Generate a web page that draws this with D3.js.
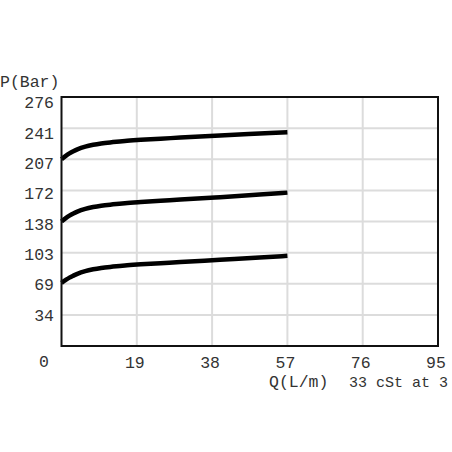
<!DOCTYPE html>
<html>
<head>
<meta charset="utf-8">
<script src="https://cdn.jsdelivr.net/npm/d3@7"></script>
<style>
html,body{margin:0;padding:0;background:#fff;}
svg{display:block;}
text{font-family:"Liberation Mono","DejaVu Sans Mono",monospace;fill:#333;}
</style>
</head>
<body>
<svg id="chart" width="452" height="452"></svg>
<script>
// ---- data ----
const xTickValues = [0, 19, 38, 57, 76, 95];
const xTickLabels = ["0", "19", "38", "57", "76", "95"];
const yTickValues = [34.5, 69, 103.5, 138, 172.5, 207, 241.5, 276];
const yTickLabels = ["34", "69", "103", "138", "172", "207", "241", "276"];
const flow = [0, 1, 2, 3, 4, 6, 8, 10, 13, 16, 20, 25, 30, 40, 50, 57];
const seriesHigh = [207, 210.5, 213.5, 216, 218, 221, 223, 224.5, 226, 227.3, 228.5, 229.8, 231, 233.3, 235.5, 237];
const seriesMid = [138, 141.5, 144.5, 147, 149, 152, 154, 155.5, 157, 158.3, 159.6, 161, 162.3, 165, 167.8, 170];
const seriesLow = [70, 73, 75.8, 78, 80, 83, 85, 86.5, 88, 89.3, 90.5, 91.8, 93, 95.5, 98, 100];
const yAxisTitle = "P(Bar)";
const xAxisTitle = "Q(L/m)";
const noteText = "33 cSt at 3";

// ---- layout ----
const svg = d3.select("#chart");
const L = 61.5, R = 438, T = 97, B = 346;
const x = d3.scaleLinear().domain([0, 95]).range([L, R]);
const y = d3.scaleLinear().domain([0, 276]).range([B, T]);
const yLabel = d3.scaleLinear().domain([0, 276]).range([345, 102.5]);

// gridlines
const grid = svg.append("g");
grid.selectAll("line.h").data(yTickValues).join("line")
  .attr("x1", L).attr("x2", R)
  .attr("y1", d => y(d)).attr("y2", d => y(d))
  .attr("stroke", "#dcdcdc").attr("stroke-width", 2);
grid.selectAll("line.v").data(xTickValues.slice(1)).join("line")
  .attr("x1", d => x(d)).attr("x2", d => x(d))
  .attr("y1", T).attr("y2", B)
  .attr("stroke", "#dcdcdc").attr("stroke-width", 2);

// curves
const line = d3.line()
  .x((d, i) => x(flow[i]))
  .y(d => y(d))
  .curve(d3.curveMonotoneX);
[seriesHigh, seriesMid, seriesLow].forEach(s => {
  svg.append("path").attr("d", line(s))
    .attr("fill", "none").attr("stroke", "#000")
    .attr("stroke-width", 4.5).attr("stroke-linecap", "butt");
});

// frame
svg.append("rect").attr("x", L).attr("y", T)
  .attr("width", R - L).attr("height", B - T)
  .attr("fill", "none").attr("stroke", "#111").attr("stroke-width", 2);

// y tick labels
svg.append("g").selectAll("text").data(yTickValues).join("text")
  .attr("x", 54).attr("y", d => yLabel(d)).attr("dy", "0.36em")
  .attr("text-anchor", "end").attr("font-size", 16.5)
  .text((d, i) => yTickLabels[i]);

// x tick labels
svg.append("g").selectAll("text").data(xTickValues).join("text")
  .attr("x", (d, i) => i === 0 ? 44 : x(d) - 2)
  .attr("y", (d, i) => i === 0 ? 367 : 367.5)
  .attr("text-anchor", "middle").attr("font-size", 16.5)
  .text((d, i) => xTickLabels[i]);

// titles
svg.append("text").attr("x", 0).attr("y", 87).attr("font-size", 16.5).text(yAxisTitle);
svg.append("text").attr("x", 269).attr("y", 387).attr("font-size", 16.5).text(xAxisTitle);
svg.append("text").attr("x", 349).attr("y", 387).attr("font-size", 15).text(noteText);
</script>
</body>
</html>
